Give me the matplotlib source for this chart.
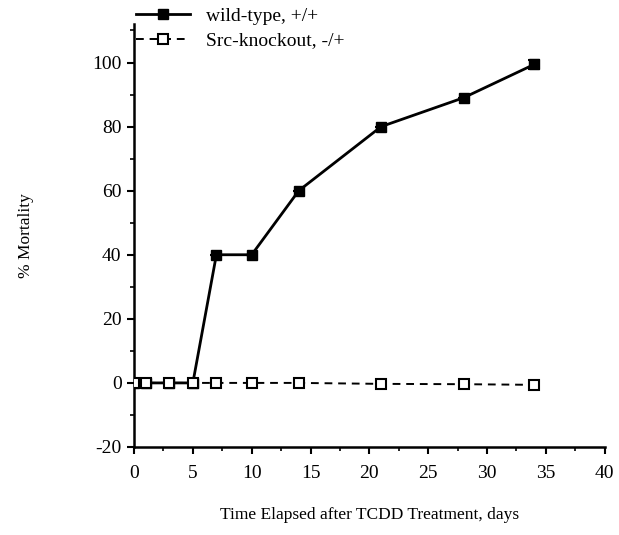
import matplotlib
matplotlib.use('Agg')
import matplotlib.pyplot as plt
from matplotlib.ticker import MultipleLocator, FuncFormatter

plt.rcParams['font.family'] = ['Liberation Serif', 'DejaVu Serif']

# ── Data ───────────────────────────────────────────────────
days = [0, 1, 3, 5, 7, 10, 14, 21, 28, 34]
wild_type = [0, 0, 0, 0, 40, 40, 60, 80, 89, 99.4]
wild_err = [0, 0, 0, 0, 0, 0, 0, 0, 0, 1.5]
knockout = [0, 0, 0, 0, 0, 0, 0, -0.3, -0.4, -0.6]

fig = plt.figure(figsize=(6.19, 5.35), dpi=100)
ax = fig.add_axes([0.2165, 0.1645, 0.7605, 0.7905])

h_wt = ax.errorbar(days, wild_type, yerr=wild_err, color='black', lw=2,
                   marker='s', ms=7, mfc='black', mec='black',
                   capsize=4, capthick=1.5, elinewidth=1.5, zorder=2)
h_ko, = ax.plot(days, knockout, color='black', lw=1.4, ls=(0, (4, 3)),
                marker='s', ms=7, mfc='white', mec='black', mew=1.5,
                zorder=3)

ax.set_xlim(0, 40)
ax.set_ylim(-20, 112)
ax.xaxis.set_major_locator(MultipleLocator(5))
ax.xaxis.set_minor_locator(MultipleLocator(2.5))
ax.yaxis.set_minor_locator(MultipleLocator(10))
ax.set_yticks([-20, 0, 20, 40, 60, 80, 100])
ax.yaxis.set_major_formatter(FuncFormatter(lambda v, p: f'{v:.0f}'))

for s in ['top', 'right']:
    ax.spines[s].set_visible(False)
for s in ['left', 'bottom']:
    ax.spines[s].set_linewidth(1.8)

ax.tick_params(which='major', direction='out', length=5, width=1.5,
               labelsize=14)
ax.tick_params(axis='x', which='major', pad=8)
ax.tick_params(axis='y', which='major', pad=4)
ax.tick_params(which='minor', direction='out', length=3, width=1.2)

ax.set_xlabel('Time Elapsed after TCDD Treatment, days', fontsize=12.5,
              labelpad=18)
ax.set_ylabel('% Mortality', fontsize=12.5, labelpad=42)

# wild-type handle without the error bar
wt_line, = ax.plot([], [], color='black', lw=2, marker='s', ms=7,
                   mfc='black', mec='black')
fig.legend([wt_line, h_ko], ['wild-type, +/+', 'Src-knockout, -/+'],
           loc='upper left', bbox_to_anchor=(136 / 619, 0.986),
           frameon=False, fontsize=14, handlelength=2.8,
           handletextpad=0.8, labelspacing=0.35, borderpad=0,
           borderaxespad=0)

fig.savefig('out.png', dpi=100)
